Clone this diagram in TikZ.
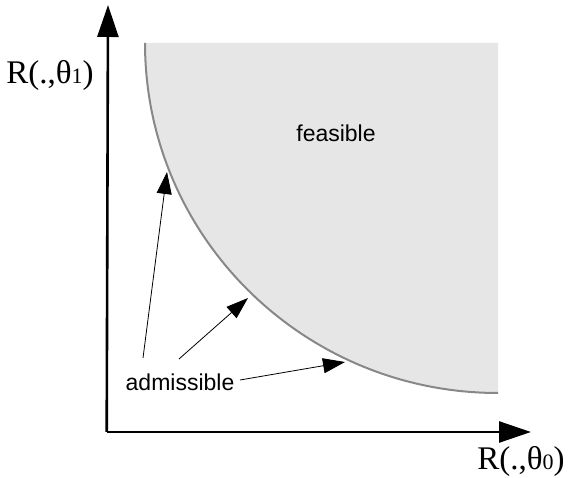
\documentclass[tikz,border=0pt]{standalone}
\usepackage{fontspec}
\setmainfont{Liberation Serif}
\setsansfont{Liberation Sans}
\usetikzlibrary{arrows.meta}
\definecolor{feas}{RGB}{230,230,230}
\definecolor{bound}{RGB}{136,136,136}
\begin{document}
\begin{tikzpicture}[x=1pt,y=1pt,
  axis/.style={line width=2.6pt,-{Triangle[length=32pt,width=21pt]}},
  pointer/.style={line width=0.8pt,-{Triangle[length=22pt,width=15pt]}},
  axlabel/.style={font=\fontsize{33}{36}\selectfont,inner sep=0pt},
  sanslabel/.style={font=\sffamily\fontsize{23}{26}\selectfont,inner sep=0pt}]
\useasboundingbox (0,0) rectangle (569,478);
% feasible region
\fill[feas] (145,435) -- (498,435) -- (498,85)
  arc[start angle=270,end angle=180,x radius=353pt,y radius=350pt] -- cycle;
\draw[bound,line width=2pt] (498,85)
  arc[start angle=270,end angle=180,x radius=353pt,y radius=350pt];
% axes
\coordinate (o) at (108,46);
\coordinate (ytip) at (108,473);
\coordinate (xtip) at (531,46);
\draw[axis] (106.7,46) -- (ytip);
\draw[axis] (106.7,46) -- (xtip);
\node[axlabel] (ylab) at (50,403) {R(.,θ\raisebox{-0.5pt}{\fontsize{22}{24}\selectfont 1})};
\node[axlabel] (xlab) at (521,17) {R(.,θ\raisebox{-0.5pt}{\fontsize{22}{24}\selectfont 0})};
\node[sanslabel] (feasible) at (336,345) {feasible};
\node[sanslabel] (adm) at (180,96) {admissible};
% pointers
\coordinate (t1) at (167,306);
\coordinate (t2) at (248,180);
\coordinate (t3) at (345,116);
\coordinate (s1) at (143,120);
\coordinate (s2) at (179,119);
\coordinate (s3) at (240,98);
\draw[pointer] (s1) -- (t1);
\draw[pointer] (s2) -- (t2);
\draw[pointer] (s3) -- (t3);
\end{tikzpicture}
\end{document}
